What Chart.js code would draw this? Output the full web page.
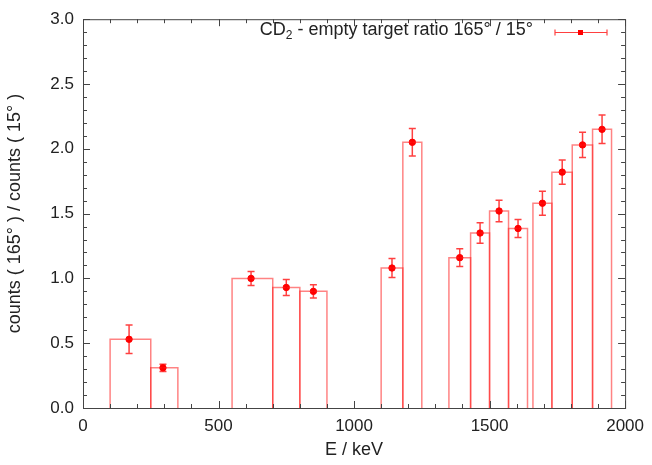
<!DOCTYPE html>
<html>
<head>
<meta charset="utf-8">
<script src="https://cdn.jsdelivr.net/npm/chart.js@4.4.1/dist/chart.umd.min.js"></script>
<style>
  body { margin: 0; background: #fff; }
  canvas { display: block; }
</style>
</head>
<body>
<canvas id="ratioChart" width="652" height="465"></canvas>
<script>
// histogram bins (keV) and ratio values
const binLo = [100, 250, 550, 700, 800, 1100, 1180, 1350, 1430, 1500, 1570, 1660, 1730, 1805, 1880];
const binHi = [250, 350, 700, 800, 900, 1180, 1250, 1430, 1500, 1570, 1640, 1730, 1805, 1880, 1950];
const centre = [170, 295, 620, 750, 850, 1140, 1215, 1390, 1465, 1535, 1605, 1695, 1768, 1843, 1915];
const ratio = [0.53, 0.31, 1.0, 0.93, 0.9, 1.08, 2.05, 1.16, 1.35, 1.52, 1.385, 1.58, 1.82, 2.03, 2.15];
const err = [0.11, 0.028, 0.054, 0.061, 0.051, 0.073, 0.106, 0.069, 0.079, 0.083, 0.069, 0.093, 0.093, 0.098, 0.11];

const xTicks = [0, 500, 1000, 1500, 2000];
const yTicks = [0, 0.5, 1.0, 1.5, 2.0, 2.5, 3.0];

const FONT = "'Liberation Sans', Arial, Helvetica, sans-serif";
const BOX_COLOR = "rgba(255, 30, 30, 0.55)";
const ERR_COLOR = "rgba(255, 0, 0, 0.75)";

// one outlined box per bin
const boxSets = binLo.map((lo, i) => ({
    type: "line",
    data: [
        { x: lo, y: 0 },
        { x: lo, y: ratio[i] },
        { x: binHi[i], y: ratio[i] },
        { x: binHi[i], y: 0 },
    ],
    borderColor: BOX_COLOR,
    borderWidth: 1.5,
    pointRadius: 0,
    fill: false,
    tension: 0,
}));

const pointSet = {
    type: "scatter",
    data: centre.map((x, i) => ({ x: x, y: ratio[i] })),
    backgroundColor: "#ff0000",
    borderColor: "#ff0000",
    pointRadius: 3.2,
    pointStyle: "circle",
};

const errorBars = {
    id: "errorBars",
    afterDatasetsDraw(chart) {
        const { ctx, scales: { x, y } } = chart;
        ctx.save();
        ctx.strokeStyle = ERR_COLOR;
        ctx.lineWidth = 1.5;
        for (let i = 0; i < centre.length; i++) {
            const px = x.getPixelForValue(centre[i]);
            const top = y.getPixelForValue(ratio[i] + err[i]);
            const bot = y.getPixelForValue(ratio[i] - err[i]);
            ctx.beginPath();
            ctx.moveTo(px, top);
            ctx.lineTo(px, bot);
            ctx.moveTo(px - 3.5, top);
            ctx.lineTo(px + 3.5, top);
            ctx.moveTo(px - 3.5, bot);
            ctx.lineTo(px + 3.5, bot);
            ctx.stroke();
        }
        ctx.restore();
    },
};

// gnuplot-like frame with inward ticks on all four sides
const frameTicks = {
    id: "frameTicks",
    afterDraw(chart) {
        const { ctx, chartArea: a, scales: { x, y } } = chart;
        ctx.save();
        ctx.strokeStyle = "#444";
        ctx.lineWidth = 1;
        ctx.strokeRect(a.left + 0.5, a.top + 0.5, a.right - a.left, a.bottom - a.top);
        ctx.beginPath();
        for (let v = 0; v <= 2000; v += 100) {
            const px = Math.round(x.getPixelForValue(v)) + 0.5;
            const len = v % 500 === 0 ? 7 : 4;
            ctx.moveTo(px, a.bottom);
            ctx.lineTo(px, a.bottom - len);
            ctx.moveTo(px, a.top);
            ctx.lineTo(px, a.top + len);
        }
        for (let k = 0; k <= 30; k++) {
            const py = Math.round(y.getPixelForValue(k / 10)) + 0.5;
            const len = k % 5 === 0 ? 7 : 4;
            ctx.moveTo(a.left, py);
            ctx.lineTo(a.left + len, py);
            ctx.moveTo(a.right, py);
            ctx.lineTo(a.right - len, py);
        }
        ctx.stroke();
        ctx.restore();
    },
};

const keyBox = {
    id: "keyBox",
    afterDraw(chart) {
        const { ctx } = chart;
        ctx.save();
        const right = 533;
        const base = 35;
        ctx.fillStyle = "#222";
        ctx.textBaseline = "alphabetic";
        ctx.font = "18px " + FONT;
        const tail = " - empty target ratio 165\u00b0 / 15\u00b0";
        const wTail = ctx.measureText(tail).width;
        const wCD = ctx.measureText("CD").width;
        ctx.font = "12px " + FONT;
        const wSub = ctx.measureText("2").width;
        let xs = right - wTail - wSub - wCD;
        ctx.font = "18px " + FONT;
        ctx.fillText("CD", xs, base);
        ctx.font = "12px " + FONT;
        ctx.fillText("2", xs + wCD, base + 4);
        ctx.font = "18px " + FONT;
        ctx.fillText(tail, xs + wCD + wSub, base);

        const ly = 32.5;
        ctx.strokeStyle = ERR_COLOR;
        ctx.lineWidth = 1.2;
        ctx.beginPath();
        ctx.moveTo(555, ly);
        ctx.lineTo(607, ly);
        ctx.moveTo(555, ly - 3);
        ctx.lineTo(555, ly + 3);
        ctx.moveTo(607, ly - 3);
        ctx.lineTo(607, ly + 3);
        ctx.stroke();
        ctx.fillStyle = "#ff0000";
        ctx.fillRect(578, ly - 2.5, 5, 5);
        ctx.restore();
    },
};

const ctx = document.getElementById("ratioChart").getContext("2d");
new Chart(ctx, {
    data: { datasets: [...boxSets, pointSet] },
    options: {
        responsive: false,
        animation: false,
        layout: { padding: { left: 0, right: 24, top: 16, bottom: 0 } },
        plugins: {
            legend: { display: false },
            tooltip: { enabled: false },
        },
        scales: {
            x: {
                type: "linear",
                min: 0,
                max: 2000,
                afterBuildTicks: (s) => { s.ticks = xTicks.map((v) => ({ value: v })); },
                afterFit: (s) => { s.height = 57; },
                grid: { display: false, drawTicks: false },
                border: { display: false },
                ticks: {
                    padding: 8,
                    color: "#222",
                    font: { family: FONT, size: 17 },
                    callback: (v) => String(v),
                },
                title: {
                    display: true,
                    text: "E / keV",
                    color: "#222",
                    font: { family: FONT, size: 18 },
                    padding: { top: 6 },
                },
            },
            y: {
                type: "linear",
                min: 0,
                max: 3,
                afterBuildTicks: (s) => { s.ticks = yTicks.map((v) => ({ value: v })); },
                afterFit: (s) => { s.width = 83; },
                grid: { display: false, drawTicks: false },
                border: { display: false },
                ticks: {
                    padding: 9,
                    color: "#222",
                    font: { family: FONT, size: 17 },
                    callback: (v) => Number(v).toFixed(1),
                },
                title: {
                    display: true,
                    text: "counts ( 165\u00b0 ) / counts ( 15\u00b0 )",
                    color: "#222",
                    font: { family: FONT, size: 18 },
                    padding: { top: 4, bottom: 8 },
                },
            },
        },
    },
    plugins: [errorBars, frameTicks, keyBox],
});
</script>
</body>
</html>
